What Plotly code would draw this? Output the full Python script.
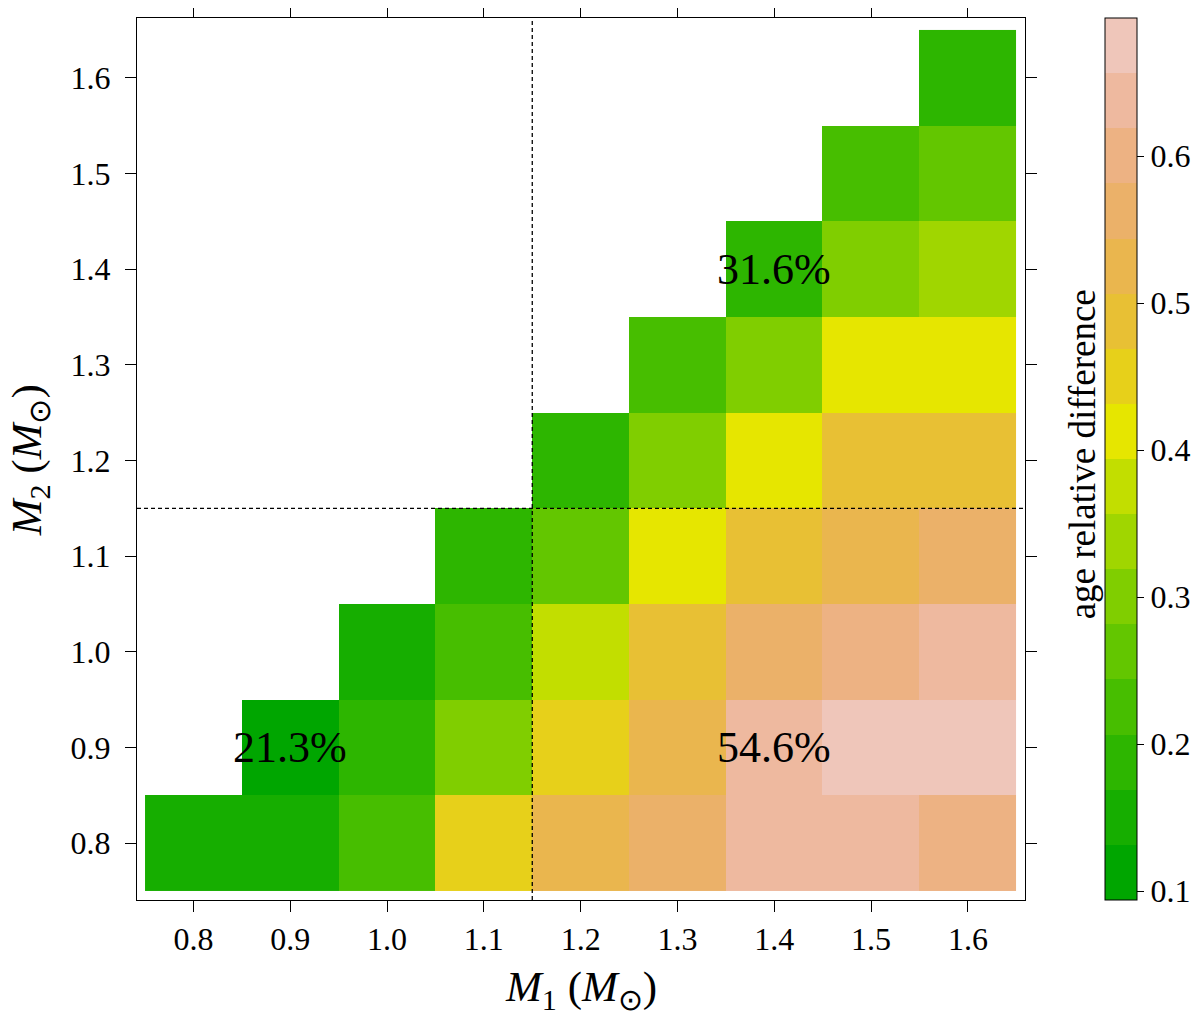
import plotly.graph_objects as go

# Primary / secondary masses (solar masses)
m1 = [0.8, 0.9, 1.0, 1.1, 1.2, 1.3, 1.4, 1.5, 1.6]
m2 = [0.8, 0.9, 1.0, 1.1, 1.2, 1.3, 1.4, 1.5, 1.6]

# age relative difference, one row per M2 (bottom to top), None = no model
age_diff = [
    [0.152, 0.148, 0.226, 0.447, 0.521, 0.566, 0.640, 0.632, 0.598],
    [None, 0.118, 0.190, 0.296, 0.452, 0.528, 0.641, 0.676, 0.684],
    [None, None, 0.146, 0.222, 0.372, 0.487, 0.561, 0.603, 0.637],
    [None, None, None, 0.191, 0.262, 0.410, 0.490, 0.523, 0.560],
    [None, None, None, None, 0.187, 0.302, 0.415, 0.485, 0.491],
    [None, None, None, None, None, 0.228, 0.298, 0.409, 0.418],
    [None, None, None, None, None, None, 0.185, 0.303, 0.336],
    [None, None, None, None, None, None, None, 0.224, 0.265],
    [None, None, None, None, None, None, None, None, 0.190],
]

# mean difference labels per region
region_x = [0.9, 1.4, 1.4]
region_y = [0.9, 0.9, 1.4]
region_text = ["21.3%", "54.6%", "31.6%"]

cbar_ticks = [0.1, 0.2, 0.3, 0.4, 0.5, 0.6]

# terrain-like palette, 16 levels
band_colors = [
    "#00A600", "#16AE00", "#2DB600", "#47BE00", "#63C600", "#80CE00",
    "#A0D600", "#C2DE00", "#E6E600", "#E7D01A", "#E8C034", "#EAB64E",
    "#EBB169", "#EDB283", "#EEB99F", "#EFC6BA",
]
zmin, zmax = 0.0939, 0.6939

n = len(band_colors)
colorscale = []
for i, c in enumerate(band_colors):
    colorscale.append([i / n, c])
    colorscale.append([(i + 1) / n, c])

FONT = "Liberation Serif, Times New Roman, serif"

fig = go.Figure()
fig.add_trace(go.Heatmap(
    x=m1, y=m2, z=age_diff,
    zmin=zmin, zmax=zmax,
    colorscale=colorscale,
    hoverongaps=False,
    colorbar=dict(
        x=1.09, xanchor="left", xref="paper", xpad=0, ypad=0,
        y=0.5, yanchor="middle",
        len=1.0, lenmode="fraction",
        thickness=32, thicknessmode="pixels",
        outlinecolor="black", outlinewidth=1,
        ticks="outside", ticklen=7, tickcolor="black",
        tickvals=cbar_ticks, tickformat=".1f",
        tickfont=dict(family=FONT, size=32, color="black"),
    ),
))

# dashed separators at 1.15 Msun
fig.add_shape(type="line", x0=1.15, x1=1.15, y0=0, y1=1, yref="paper",
              line=dict(color="black", width=1.3, dash="4px,3px"))
fig.add_shape(type="line", x0=0, x1=1, xref="paper", y0=1.15, y1=1.15,
              line=dict(color="black", width=1.3, dash="4px,3px"))

for x, y, t in zip(region_x, region_y, region_text):
    fig.add_annotation(x=x, y=y, text=t, showarrow=False,
                       font=dict(family=FONT, size=44, color="black"))

# colorbar title on the left side of the bar
fig.add_annotation(x=1.065, y=0.505, xref="paper", yref="paper",
                   xanchor="center", yanchor="middle",
                   text="age relative difference", textangle=-90,
                   showarrow=False,
                   font=dict(family=FONT, size=37, color="black"))

# axis titles (placed by hand, standoff has no effect without automargin)
fig.add_annotation(x=0.5, y=-0.102, xref="paper", yref="paper",
                   xanchor="center", yanchor="middle",
                   text="<i>M</i><sub>1</sub> (<i>M</i><sub>⊙</sub>)",
                   showarrow=False,
                   font=dict(family=FONT, size=43, color="black"))
fig.add_annotation(x=-0.121, y=0.498, xref="paper", yref="paper",
                   xanchor="center", yanchor="middle", textangle=-90,
                   text="<i>M</i><sub>2</sub> (<i>M</i><sub>⊙</sub>)",
                   showarrow=False,
                   font=dict(family=FONT, size=43, color="black"))

axis_common = dict(
    showgrid=False, zeroline=False, automargin=False,
    showline=True, linecolor="black", linewidth=1, mirror="ticks",
    ticks="outside", ticklen=11, tickcolor="black",
    tickvals=m1, tickformat=".1f",
    tickfont=dict(family=FONT, size=32, color="black"),
)

fig.update_xaxes(range=[0.7417, 1.659], **axis_common)
fig.update_yaxes(range=[0.7406, 1.6625], ticklabelstandoff=8, **axis_common)

# page body adds an 8px margin, so the figure is sized to fit the window
fig.update_layout(
    width=1184, height=1006,
    margin=dict(l=129, r=167, t=10, b=114, autoexpand=False),
    plot_bgcolor="white", paper_bgcolor="white",
    showlegend=False,
)

fig.write_html("out.html")
